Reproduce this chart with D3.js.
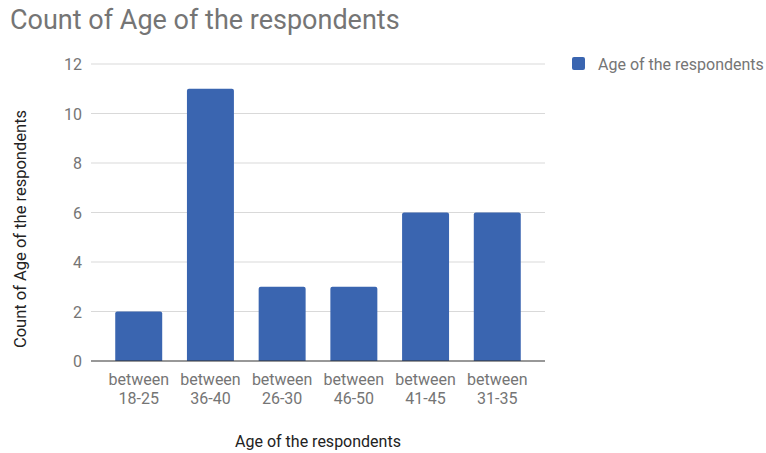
<!DOCTYPE html>
<html>
<head>
<meta charset="utf-8">
<script src="https://cdn.jsdelivr.net/npm/d3@7"></script>
<style>
  body { margin: 0; background: #fff; }
  text { font-family: Roboto, "Noto Sans", sans-serif; }
</style>
</head>
<body>
<div id="chart"></div>
<script>
// Chart data
const categories = ["between 18-25", "between 36-40", "between 26-30", "between 46-50", "between 41-45", "between 31-35"];
const counts = [2, 11, 3, 3, 6, 6];
const yTicks = [0, 2, 4, 6, 8, 10, 12];
const seriesName = "Age of the respondents";

const width = 766;
const height = 453;
const barColor = "#3a65b0";

const svg = d3.select("#chart")
  .append("svg")
  .attr("width", width)
  .attr("height", height);

const x = d3.scaleBand()
  .domain(categories)
  .range([91, 545])
  .paddingInner(0.345)
  .paddingOuter(0.338);

const y = d3.scaleLinear()
  .domain([0, 12])
  .range([361, 64]);

// Title
svg.append("text")
  .attr("x", 10)
  .attr("y", 29)
  .attr("fill", "#757575")
  .style("font-size", "27px")
  .text("Count of Age of the respondents");

// Gridlines + y tick labels
const grid = svg.append("g");
yTicks.forEach(t => {
  if (t > 0) {
    grid.append("line")
      .attr("x1", 91).attr("x2", 545)
      .attr("y1", y(t)).attr("y2", y(t))
      .attr("stroke", "#d9d9d9")
      .attr("stroke-width", 1);
  }
  grid.append("text")
    .attr("x", 82)
    .attr("y", y(t) + 6)
    .attr("text-anchor", "end")
    .attr("fill", "#757575")
    .style("font-size", "16px")
    .text(t);
});

// Bars with slightly rounded top
svg.append("g")
  .selectAll("path")
  .data(categories.map((c, i) => ({ c, v: counts[i] })))
  .join("path")
  .attr("fill", barColor)
  .attr("d", d => {
    const x0 = x(d.c), w = x.bandwidth(), y0 = y(d.v), y1 = y(0), r = 2;
    return `M${x0},${y1}V${y0 + r}Q${x0},${y0} ${x0 + r},${y0}H${x0 + w - r}Q${x0 + w},${y0} ${x0 + w},${y0 + r}V${y1}Z`;
  });

// Baseline
svg.append("line")
  .attr("x1", 91).attr("x2", 545)
  .attr("y1", y(0)).attr("y2", y(0))
  .attr("stroke", "#333")
  .attr("stroke-width", 1.2);

// X tick labels (two lines)
const xl = svg.append("g");
categories.forEach(c => {
  const parts = c.split(" ");
  const t = xl.append("text")
    .attr("text-anchor", "middle")
    .attr("fill", "#757575")
    .style("font-size", "16px");
  t.append("tspan").attr("x", x(c) + x.bandwidth() / 2).attr("y", 385).text(parts[0]);
  t.append("tspan").attr("x", x(c) + x.bandwidth() / 2).attr("y", 404).text(parts[1]);
});

// Axis titles
svg.append("text")
  .attr("x", 318)
  .attr("y", 447)
  .attr("text-anchor", "middle")
  .attr("fill", "#222")
  .style("font-size", "16px")
  .text("Age of the respondents");

svg.append("text")
  .attr("transform", "translate(26,229) rotate(-90)")
  .attr("text-anchor", "middle")
  .attr("fill", "#222")
  .style("font-size", "16.5px")
  .text("Count of Age of the respondents");

// Legend
const legend = svg.append("g").attr("transform", "translate(572,57)");
legend.append("rect")
  .attr("width", 13).attr("height", 13)
  .attr("rx", 2)
  .attr("fill", barColor);
legend.append("text")
  .attr("x", 26)
  .attr("y", 12.5)
  .attr("fill", "#757575")
  .style("font-size", "16px")
  .text(seriesName);
</script>
</body>
</html>
